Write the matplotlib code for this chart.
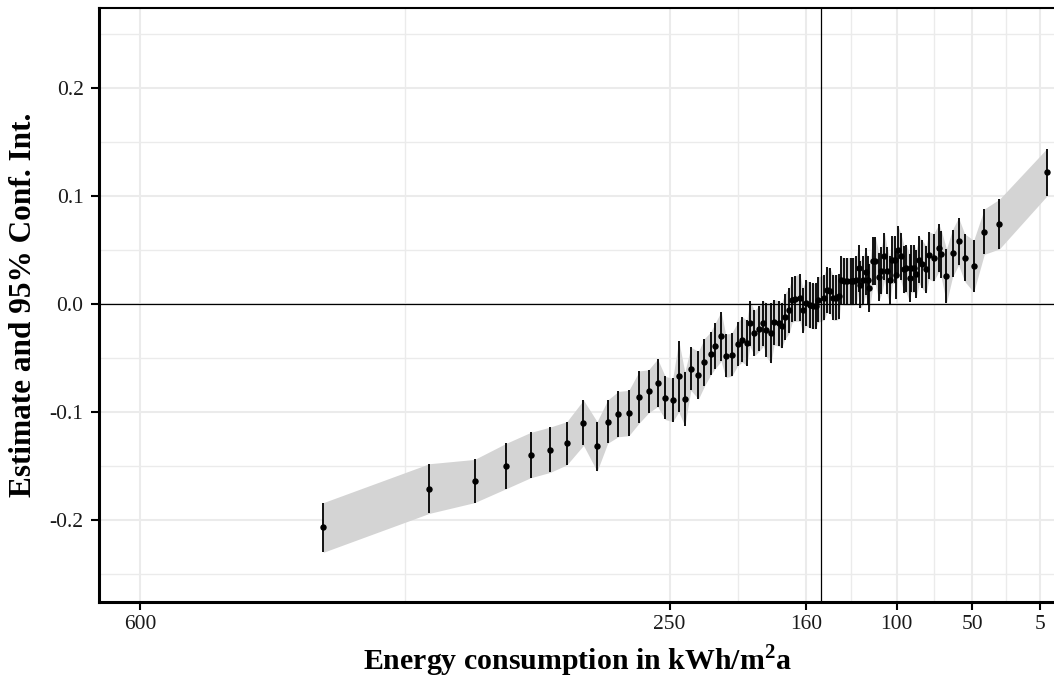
import matplotlib
matplotlib.use("Agg")
import matplotlib.pyplot as plt

plt.rcParams['font.family'] = ['Liberation Serif', 'DejaVu Serif']
plt.rcParams['axes.unicode_minus'] = False
plt.rcParams['mathtext.fontset'] = 'custom'
plt.rcParams['mathtext.rm'] = 'Liberation Serif'
plt.rcParams['mathtext.bf'] = 'Liberation Serif:bold'

# energy consumption (kWh/m2a) of each bin
energy = [479, 409, 379, 358, 342, 329, 318, 307, 298, 291, 284, 277, 270, 264, 258,
          253, 248, 244, 240, 236, 231, 227, 223, 220, 216, 213, 209, 205, 202, 199,
          197, 194, 191, 188, 186, 183, 181, 178, 176, 174, 171, 169, 167, 164, 162,
          160, 157.5, 155, 153.5, 152, 148, 146, 144, 142, 140, 138, 137, 135, 132.6, 130.4,
          129, 126.6, 125, 124, 122, 120.5, 119, 118, 115.6, 114, 111.7, 110, 108, 106.4, 104.6,
          102.8, 101, 100.2, 99, 97.3, 95, 93.6, 91.4, 90.3, 88.5, 87, 85, 83.3, 80.4, 78.6,
          75.5, 72, 70.4, 67, 63, 59, 55, 49, 42, 32, 0.6]
estimate = [-0.207, -0.171, -0.164, -0.150, -0.140, -0.135, -0.129, -0.110, -0.132, -0.109,
            -0.102, -0.101, -0.086, -0.081, -0.073, -0.087, -0.089, -0.067, -0.088, -0.060,
            -0.066, -0.054, -0.046, -0.039, -0.030, -0.048, -0.047, -0.037, -0.033, -0.036,
            -0.018, -0.027, -0.023, -0.018, -0.024, -0.027, -0.017, -0.018, -0.020, -0.012,
            -0.006, 0.004, 0.005, 0.006, -0.006, 0.001, -0.001, -0.002, -0.002, 0.004,
            0.006, 0.013, 0.012, 0.006, 0.006, 0.007, 0.022, 0.021, 0.021, 0.021,
            0.021, 0.022, 0.033, 0.018, 0.022, 0.030, 0.022, 0.015, 0.040, 0.040,
            0.025, 0.031, 0.044, 0.031, 0.022, 0.041, 0.041, 0.027, 0.050, 0.044,
            0.032, 0.033, 0.024, 0.033, 0.033, 0.028, 0.041, 0.037, 0.032, 0.045,
            0.043, 0.052, 0.046, 0.026, 0.047, 0.058, 0.043, 0.035, 0.067, 0.074, 0.122]
halfwidth = [0.023, 0.023, 0.020, 0.021, 0.021, 0.021, 0.020, 0.021, 0.023, 0.020,
             0.021, 0.021, 0.024, 0.020, 0.022, 0.020, 0.020, 0.033, 0.025, 0.020,
             0.022, 0.022, 0.020, 0.021, 0.023, 0.020, 0.020, 0.020, 0.021, 0.021,
             0.021, 0.021, 0.021, 0.021, 0.025, 0.028, 0.021, 0.021, 0.021, 0.021,
             0.021, 0.021, 0.021, 0.022, 0.021, 0.021, 0.021, 0.021, 0.021, 0.021,
             0.021, 0.021, 0.021, 0.021, 0.021, 0.021, 0.022, 0.022, 0.022, 0.022,
             0.022, 0.022, 0.022, 0.022, 0.022, 0.022, 0.022, 0.022, 0.022, 0.022,
             0.022, 0.022, 0.022, 0.022, 0.022, 0.022, 0.022, 0.022, 0.022, 0.022,
             0.022, 0.022, 0.022, 0.022, 0.022, 0.022, 0.022, 0.022, 0.022, 0.022,
             0.022, 0.022, 0.022, 0.025, 0.022, 0.022, 0.022, 0.024, 0.021, 0.023, 0.022]
lower = [e - h for e, h in zip(estimate, halfwidth)]
upper = [e + h for e, h in zip(estimate, halfwidth)]

xticks = [600, 250, 160, 100, 50, 5]
xminor = [425, 205, 130, 75, 27.5]
yticks = [-0.2, -0.1, 0.0, 0.1, 0.2]
yminor = [-0.25, -0.15, -0.05, 0.05, 0.15, 0.25]
cutoff = 150

fig = plt.figure(figsize=(10.54, 6.84), dpi=100)
ax = fig.add_axes([0.0944, 0.12, 0.9066, 0.868])

ax.fill_between(energy, lower, upper, color='#d4d4d4', lw=0, zorder=2)
ax.errorbar(energy, estimate, yerr=halfwidth, fmt='o', color='black', ms=3.6,
            elinewidth=1.3, capsize=0, zorder=4)
ax.axhline(0, color='black', lw=0.9, zorder=3)
ax.axvline(cutoff, color='black', lw=0.9, zorder=3)

# reversed axis: high consumption on the left
ax.set_xlim(627, -4.8)
ax.set_ylim(-0.276, 0.274)
ax.set_xticks(xticks)
ax.set_xticklabels([str(t) for t in xticks])
ax.set_xticks(xminor, minor=True)
ax.set_yticks(yticks)
ax.set_yticklabels(['%.1f' % t for t in yticks])
ax.set_yticks(yminor, minor=True)

ax.grid(True, which='major', color='#ebebeb', lw=1.5, zorder=0)
ax.grid(True, which='minor', color='#ebebeb', lw=1.0, zorder=0)
ax.set_axisbelow(True)

ax.tick_params(which='major', length=5.5, width=1.5, color='black', labelsize=15.5,
               labelcolor='#1a1a1a')
ax.tick_params(axis='y', pad=6)
ax.tick_params(axis='x', pad=4)
ax.tick_params(which='minor', length=0)
for s in ax.spines.values():
    s.set_color('black')
    s.set_linewidth(1.5)
ax.spines['left'].set_linewidth(2.2)
ax.spines['bottom'].set_linewidth(2.2)

ax.set_xlabel(r'Energy consumption in kWh/m$^{\mathbf{2}}$a', fontsize=21.5,
              fontweight='bold', labelpad=6)
ax.set_ylabel('Estimate and 95% Conf. Int.', fontsize=22.5, fontweight='bold', labelpad=8)

fig.savefig('out.png', dpi=100)
